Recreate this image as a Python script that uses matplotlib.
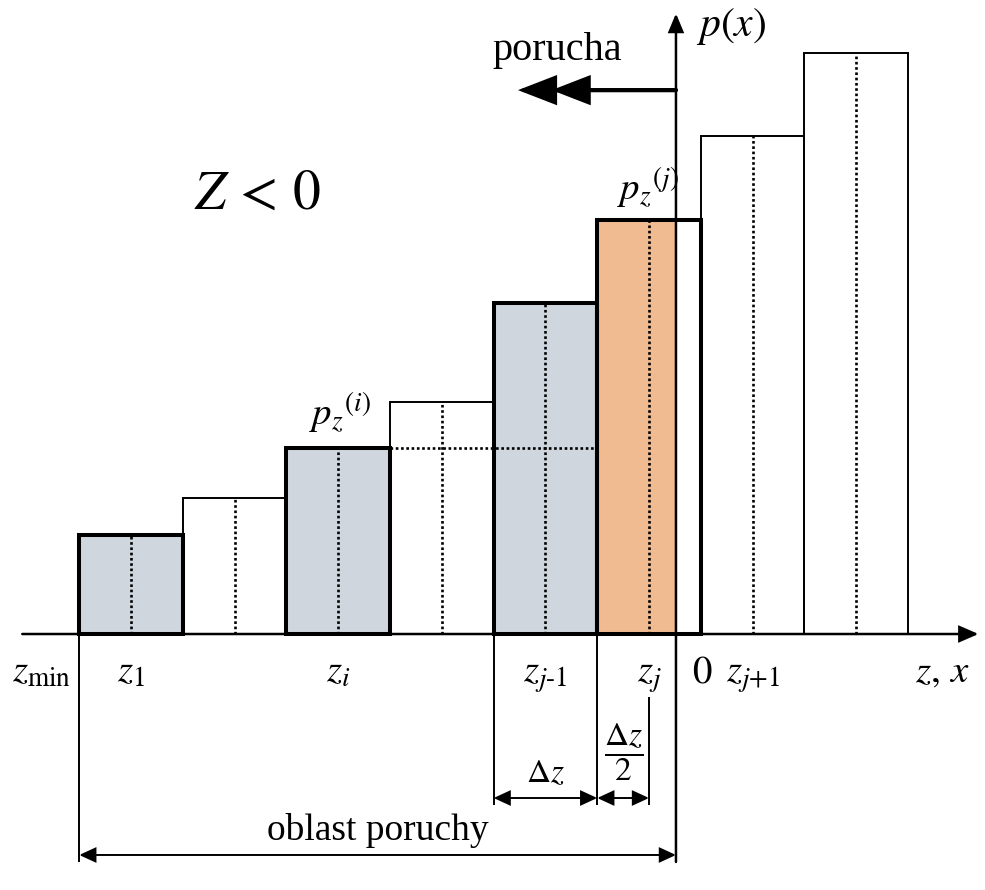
import numpy as np
import matplotlib
matplotlib.use("Agg")
import matplotlib.pyplot as plt

plt.rcParams["mathtext.fontset"] = "stix"
plt.rcParams["font.family"] = ["Liberation Serif", "DejaVu Serif"]

# histogram of p(z): equal intervals dz starting at z_min
dz = 1.0
z_min = -5.76
p_vals = [0.96, 1.31, 1.80, 2.24, 3.20, 4.00, 4.81, 5.61]
in_failure = [True, False, True, False, True, True, False, False]
bar_fill = ["#cfd6de", "white", "#cfd6de", "white", "#cfd6de", "#f1bb92", "white", "white"]
z_labels = [r"$z_1$", "", r"$z_i$", "", r"$z_{j\text{-}1}$", r"$z_j$", r"$z_{j\text{+}1}$", ""]
i_idx = 2
j_idx = 5

lefts = z_min + dz * np.arange(len(p_vals))
centers = lefts + dz / 2
failure = np.array(in_failure)
thick, thin = 2.9, 1.4
dots = [(0, (1, 1))]

fig = plt.figure(figsize=(9.85, 8.90), dpi=100)
ax = fig.add_axes([0, 0, 1, 1])
ax.set_xlim(-6.525, 2.983)
ax.set_ylim(-2.471, 6.120)
ax.axis("off")

# fills stop at z = 0 (the p(x) axis)
fill_w = np.clip(0 - lefts, 0, dz)
ax.bar(lefts, p_vals, width=fill_w, align="edge", color=bar_fill, linewidth=0, zorder=1)

# dotted centre lines and the p_z^(i) level
ax.vlines(centers, 0, p_vals, colors="k", linestyles=dots, linewidth=1.9, zorder=2)
ax.hlines(p_vals[i_idx], lefts[i_idx] + dz, lefts[j_idx], colors="k",
          linestyles=dots, linewidth=1.9, zorder=2)

# outlines: thin for the rest, thick for intervals in the failure region
p_arr = np.array(p_vals)
ax.bar(lefts[~failure], p_arr[~failure], width=dz, align="edge", fill=False,
       edgecolor="k", linewidth=thin, zorder=3)
ax.bar(lefts[failure], p_arr[failure], width=dz, align="edge", fill=False,
       edgecolor="k", linewidth=thick, zorder=4)

def arrow(p0, p1, style, lw):
    ax.annotate("", xy=p1, xytext=p0,
                arrowprops=dict(arrowstyle=style, mutation_scale=1, lw=lw, color="k",
                                shrinkA=0, shrinkB=0, joinstyle="miter"),
                zorder=5)

# axes
arrow((-6.31, 0), (2.92, 0), "-|>,head_length=11.5,head_width=5", 1.8)
arrow((0, -2.20), (0, 5.99), "-|>,head_length=11,head_width=4.6", 1.8)

# direction of failure
arrow((0, 5.25), (-1.525, 5.25), "-|>,head_length=22.7,head_width=8.8", 2.9)
arrow((0, 5.25), (-1.20, 5.25), "-|>,head_length=22.7,head_width=8.8", 2.9)

# dimension lines below the axis
ax.vlines(z_min, -2.20, 0, colors="k", linewidth=1.4)
ax.vlines([lefts[j_idx - 1], lefts[j_idx]], -1.65, 0, colors="k", linewidth=1.4)
ax.vlines(lefts[j_idx] + dz / 2, -1.65, -0.61, colors="k", linewidth=1.4)
arrow((lefts[j_idx - 1], -1.583), (lefts[j_idx], -1.583), "<|-|>,head_length=10,head_width=4.6", 1.4)
arrow((lefts[j_idx], -1.583), (lefts[j_idx] + dz / 2, -1.583), "<|-|>,head_length=10,head_width=4.6", 1.4)
arrow((z_min, -2.133), (0, -2.133), "<|-|>,head_length=10,head_width=4.6", 1.4)

# texts
ax.text(0.53, 5.86, r"$p(x)$", fontsize=30, ha="center", va="center")
ax.text(-1.15, 5.54, "porucha", fontsize=29, ha="center", va="baseline")
ax.text(-4.04, 4.24, r"$Z\,<\,0$", fontsize=40, ha="center", va="center")
ax.text(lefts[i_idx] + 0.22, p_vals[i_idx] + 0.22, r"${p_z}^{(i)}$", fontsize=28, ha="left", va="baseline")
ax.text(lefts[j_idx] + 0.19, p_vals[j_idx] + 0.19, r"${p_z}^{(j)}$", fontsize=28, ha="left", va="baseline")

for c, lab in zip(centers, z_labels):
    if lab:
        ax.text(c, -0.46, lab, fontsize=28, ha="center", va="baseline")
ax.text(z_min - 0.36, -0.46, r"$z_{\min}$", fontsize=28, ha="center", va="baseline")
ax.text(0.25, -0.47, r"$0$", fontsize=28, ha="center", va="baseline")
ax.text(2.57, -0.46, r"$z,\,x$", fontsize=28, ha="center", va="baseline")

ax.text(lefts[j_idx - 1] + dz / 2, -1.43, r"$\Delta z$", fontsize=24, ha="center", va="baseline")
ax.text(lefts[j_idx] + dz / 4, -1.14, r"$\dfrac{\Delta z}{2}$", fontsize=24, ha="center", va="center")
ax.text(z_min / 2, -1.99, "oblast poruchy", fontsize=27, ha="center", va="baseline")

fig.savefig("out.png", dpi=100)
